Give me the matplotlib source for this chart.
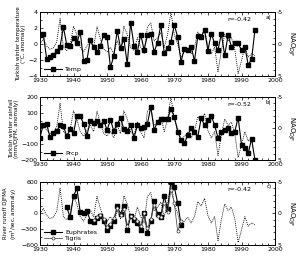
import numpy as np
import matplotlib.pyplot as plt
from matplotlib.ticker import MultipleLocator

# Data
temp_years = list(range(1930, 1995))
temp = [1.2, 1.3, -1.8, -1.6, -1.4, -0.9, -0.3, 2.1, -0.1, -0.2,
        0.8, 0.2, 1.5, -2.1, -2.0, 0.5, -0.4, -1.0, -0.2, 1.2,
        0.9, -2.9, -1.5, 1.7, -0.5, 0.6, -2.5, 2.7, -0.2, -1.0,
        1.2, -0.7, 1.1, 1.3, -1.0, 0.2, 2.4, -1.1, -0.5, 0.3,
        2.4, 0.9, -2.2, -0.55, -0.7, -0.3, -2.1, 1.0, 0.9, 1.75,
        -0.8, 1.3, 0.1, -0.75, 1.3, -1.4, 1.1, -0.3, 0.1, 0.1,
        -0.75, -0.3, -2.6, -1.9, 1.75]

prcp_years = list(range(1930, 1995))
prcp = [-60, 25, 30, -55, -30, -15, 20, 15, -50, -5,
        -30, 80, 80, 30, -45, 50, 35, 50, 20, 50,
        -10, 55, -15, 30, 65, -5, -15, 25, -60, 20,
        5, 10, 30, 138, -10, 43, 60, 60, 60, 124,
        75, -20, -73, -94, -41, 0, -20, -52, 65, 22,
        54, 81, 20, -58, -20, -10, 0, -30, -20, 69,
        -105, -125, -158, -65, -200]

euph_years = list(range(1938, 1973))
euph = [121, -70, 332, 478, 32, 13, 45, -134, -160, -83,
        -51, -147, -319, -242, -147, 140, -19, 140, -319, -51,
        -115, -179, -319, 13, -370, -147, 240, -10, -60, 330,
        80, 600, 500, 200, -210]

tigr_years = list(range(1946, 1973))
tigr = [-120, -60, -30, -110, -250, -200, -90, 100, -30, 90,
        -230, -40, -90, -140, -230, 0, -280, -110, 160, -50,
        -70, 200, 20, 450, 200, -340, -150]

nao_years = list(range(1930, 1995))
nao = [0.0, -0.8, 0.3, 0.8, 0.6, -0.3, -4.0, 0.5, 1.0, 0.2,
       -2.8, -1.5, 0.5, 1.2, 0.3, -0.5, 0.5, -2.7, -0.8, 0.8,
       1.2, 0.5, 1.5, -0.5, 0.8, -2.8, -1.5, 0.5, 1.0, -1.0,
       0.5, 1.5, -2.7, -3.3, -0.5, -1.0, -1.8, 0.5, -1.5, -5.0,
       -1.5, 0.0, 2.0, 1.2, 0.6, 1.5, 0.5, -1.9, -1.2, -2.4,
       0.3, 1.5, 0.5, 4.3, 1.0, -1.5, -0.5, -1.0, 0.8, 4.6,
       2.6, 0.5, 2.0, 1.5, 1.8]

plt.rcParams['font.family'] = ['DejaVu Sans']
fs = 4.5

fig = plt.figure(figsize=(3.0, 2.58), dpi=100)

panels = [
    dict(rect=[0.133, 0.705, 0.784, 0.248], lim=(-4, 4), step=2, minor=1,
         label='Turkish winter temperature\n(°C, anomaly)', r='r=-0.42', tag='a)'),
    dict(rect=[0.133, 0.380, 0.784, 0.244], lim=(-200, 200), step=100, minor=50,
         label='Turkish winter rainfall\n(mm/DJFM, anomaly)', r='r=-0.52', tag='b)'),
    dict(rect=[0.133, 0.050, 0.784, 0.245], lim=(-600, 600), step=300, minor=150,
         label='River runoff DJFMA\n(m$^3$/sec, anomaly)', r='r=-0.42', tag='c)'),
]

axes = []
for p in panels:
    ax = fig.add_axes(p['rect'])
    ax.set_xlim(1930, 2000)
    ax.set_ylim(*p['lim'])
    ax.xaxis.set_major_locator(MultipleLocator(10))
    ax.xaxis.set_minor_locator(MultipleLocator(2))
    ax.yaxis.set_major_locator(MultipleLocator(p['step']))
    ax.yaxis.set_minor_locator(MultipleLocator(p['minor']))
    ax.tick_params(which='both', direction='in', top=True, labelsize=fs,
                   width=0.5, pad=1.5)
    ax.tick_params(which='major', length=2.5)
    ax.tick_params(which='minor', length=1.2)
    ax.set_ylabel(p['label'], fontsize=4, labelpad=1.5, linespacing=1.0)
    for s in ax.spines.values():
        s.set_linewidth(0.6)
    ax.text(0.90, 0.88, p['r'], transform=ax.transAxes, fontsize=4.5,
            ha='right', va='center')
    ax.text(0.985, 0.92, p['tag'], transform=ax.transAxes, fontsize=4,
            ha='right', va='center')

    ax2 = ax.twinx()
    ax2.set_ylim(5, -5)
    ax2.yaxis.set_major_locator(MultipleLocator(5))
    ax2.yaxis.set_minor_locator(MultipleLocator(1))
    ax2.tick_params(which='both', direction='in', labelsize=fs, width=0.5, pad=1.5)
    ax2.tick_params(which='major', length=2.5)
    ax2.tick_params(which='minor', length=1.2)
    ax2.set_yticks([-5, 0, 5])
    ax2.set_yticklabels(['-5', '0', '5'])
    ax2.set_ylabel('NAO$_{DJF}$', fontsize=5, rotation=270, va='bottom', labelpad=1)
    ax2.plot(nao_years, nao, color='black', lw=0.6, ls=(0, (1.2, 1.2)))
    for s in ax2.spines.values():
        s.set_linewidth(0.6)
    axes.append(ax)

ax1, ax2_, ax3 = axes
ax1.plot(temp_years, temp, color='black', lw=0.8, marker='s', ms=2.2, label='Temp')
ax2_.plot(prcp_years, prcp, color='black', lw=0.8, marker='s', ms=2.2, label='Prcp')
ax3.plot(euph_years, euph, color='black', lw=0.8, marker='s', ms=2.2, label='Euphrates')
ax3.plot(tigr_years, tigr, color='#555555', lw=0.6, marker='o', ms=2.2,
         mfc='white', mec='#333333', mew=0.5, label='Tigris')

for ax in axes:
    ax.set_zorder(2)
    ax.patch.set_visible(False)
    ax.legend(loc='lower left', frameon=False, fontsize=fs, handlelength=3,
              handletextpad=0.4, borderaxespad=0.2, labelspacing=0.1)

fig.savefig('out.png', dpi=100)
